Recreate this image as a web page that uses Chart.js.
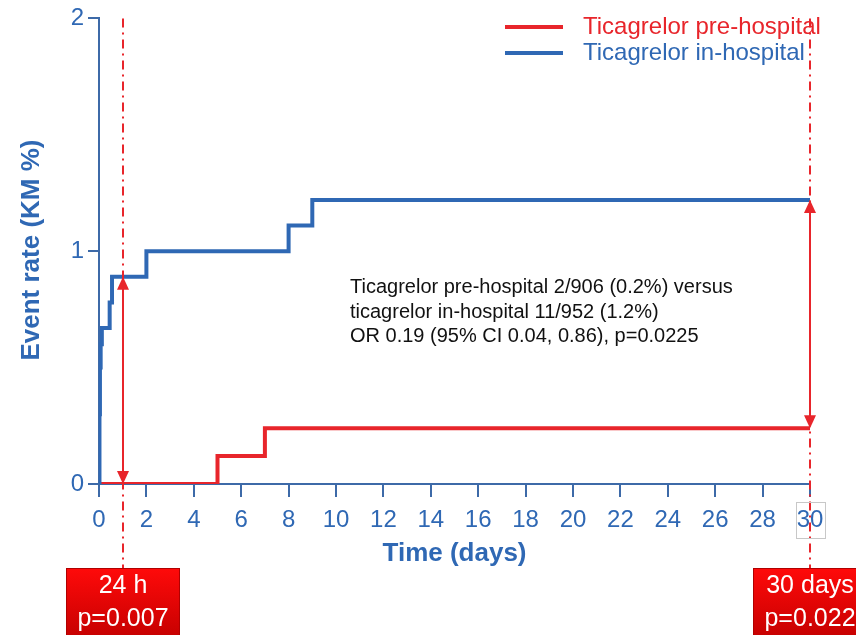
<!DOCTYPE html>
<html>
<head>
<meta charset="utf-8">
<script src="https://cdn.jsdelivr.net/npm/chart.js@4.4.1/dist/chart.umd.min.js"></script>
<style>
  body { margin: 0; background: #fff; }
  #wrap { width: 856px; height: 635px; position: relative; }
</style>
</head>
<body>
<div id="wrap"><canvas id="kmChart"></canvas></div>
<script>
// Kaplan-Meier curves: event times (days) and cumulative event rate (%)
const preDays = [0, 5, 7, 30];
const preRate = [0, 0.12, 0.24, 0.24];
const inDays = [0, 0.02, 0.04, 0.07, 0.12, 0.45, 0.55, 2, 8, 9, 30];
const inRate = [0, 0.3, 0.5, 0.6, 0.67, 0.78, 0.89, 1.0, 1.11, 1.22, 1.22];

const seriesNames = ['Ticagrelor pre-hospital', 'Ticagrelor in-hospital'];

// tick labels
const xTicks = [0, 2, 4, 6, 8, 10, 12, 14, 16, 18, 20, 22, 24, 26, 28, 30];
const yTicks = [0, 1, 2];

// landmark comparisons (day, label, p value, arrow from / to)
const landmarkDays = [1, 30];
const landmarkNames = ['24 h', '30 days'];
const landmarkP = ['p=0.007', 'p=0.022'];
const landmarkLow = [0, 0.24];
const landmarkHigh = [0.89, 1.22];

const noteLines = [
  'Ticagrelor pre-hospital 2/906 (0.2%) versus',
  'ticagrelor in-hospital 11/952 (1.2%)',
  'OR 0.19 (95% CI 0.04, 0.86), p=0.0225'
];

const RED = '#e8252b';
const BLUE = '#2f68b4';
const AXIS = '#3d6aa8';
const FONT = '"Liberation Sans", Arial, sans-serif';

function toPoints(xs, ys) {
  return xs.map((x, i) => ({ x: x, y: ys[i] }));
}

function arrowHead(ctx, x, y, dir) {
  // dir = 1 points down, -1 points up
  ctx.beginPath();
  ctx.moveTo(x, y);
  ctx.lineTo(x - 6, y - dir * 13);
  ctx.lineTo(x + 6, y - dir * 13);
  ctx.closePath();
  ctx.fill();
}

const extras = {
  id: 'extras',
  afterDatasetsDraw(chart) {
    const ctx = chart.ctx;
    const xs = chart.scales.x;
    const ys = chart.scales.y;
    const area = chart.chartArea;
    ctx.save();

    // dash-dot landmark lines + double arrows
    landmarkDays.forEach((d, i) => {
      const px = Math.round(xs.getPixelForValue(d));
      ctx.strokeStyle = RED;
      ctx.lineWidth = 2;
      ctx.setLineDash([9, 5, 2, 5]);
      ctx.beginPath();
      ctx.moveTo(px, area.top);
      ctx.lineTo(px, 568);
      ctx.stroke();
      ctx.setLineDash([]);

      const yLo = ys.getPixelForValue(landmarkLow[i]);
      const yHi = ys.getPixelForValue(landmarkHigh[i]);
      ctx.beginPath();
      ctx.moveTo(px, yLo - 10);
      ctx.lineTo(px, yHi + 10);
      ctx.stroke();
      ctx.fillStyle = RED;
      arrowHead(ctx, px, yLo, 1);
      arrowHead(ctx, px, yHi, -1);

      // red label box
      const bw = 114, bx = px - bw / 2, by = 568;
      const g = ctx.createLinearGradient(0, by, 0, 640);
      g.addColorStop(0, '#ff0a0a');
      g.addColorStop(1, '#c40000');
      ctx.fillStyle = g;
      ctx.fillRect(bx, by, bw, 70);
      ctx.strokeStyle = '#b00000';
      ctx.lineWidth = 1;
      ctx.strokeRect(bx + 0.5, by + 0.5, bw - 1, 70);
      ctx.fillStyle = '#fff';
      ctx.font = '25px ' + FONT;
      ctx.textAlign = 'center';
      ctx.textBaseline = 'middle';
      ctx.fillText(landmarkNames[i], px, 586);
      ctx.fillText(landmarkP[i], px, 619);
    });

    // light box round the last tick label
    const p30 = xs.getPixelForValue(xTicks[xTicks.length - 1]);
    ctx.strokeStyle = '#c8c8c8';
    ctx.lineWidth = 1;
    ctx.strokeRect(Math.round(p30) - 13.5, 502.5, 29, 36);

    // axis titles
    ctx.fillStyle = BLUE;
    ctx.font = 'bold 26px ' + FONT;
    ctx.textAlign = 'center';
    ctx.textBaseline = 'middle';
    ctx.fillText('Time (days)', (area.left + area.right) / 2, 554);
    ctx.save();
    ctx.translate(32, 250);
    ctx.rotate(-Math.PI / 2);
    ctx.fillText('Event rate (KM %)', 0, 0);
    ctx.restore();

    // note text
    ctx.fillStyle = '#111';
    ctx.font = '20px ' + FONT;
    ctx.textAlign = 'left';
    ctx.textBaseline = 'alphabetic';
    noteLines.forEach((t, i) => ctx.fillText(t, 350, 293 + i * 24.5));

    // legend
    const legendColors = [RED, BLUE];
    ctx.font = '24px ' + FONT;
    ctx.textBaseline = 'middle';
    seriesNames.forEach((name, i) => {
      const ly = 27 + i * 26;
      ctx.strokeStyle = legendColors[i];
      ctx.lineWidth = 4;
      ctx.beginPath();
      ctx.moveTo(505, ly);
      ctx.lineTo(563, ly);
      ctx.stroke();
      ctx.fillStyle = legendColors[i];
      ctx.fillText(name, 583, ly);
    });

    ctx.restore();
  }
};

new Chart(document.getElementById('kmChart'), {
  type: 'line',
  data: {
    datasets: [
      {
        label: seriesNames[1],
        data: toPoints(inDays, inRate),
        borderColor: BLUE,
        borderWidth: 4,
        stepped: 'before',
        pointRadius: 0,
        fill: false
      },
      {
        label: seriesNames[0],
        data: toPoints(preDays, preRate),
        borderColor: RED,
        borderWidth: 4,
        stepped: 'before',
        pointRadius: 0,
        fill: false
      }
    ]
  },
  options: {
    responsive: true,
    maintainAspectRatio: false,
    animation: false,
    layout: { padding: { top: 17, right: 46, left: 0, bottom: 0 } },
    plugins: { legend: { display: false }, tooltip: { enabled: false } },
    scales: {
      x: {
        type: 'linear',
        min: 0,
        max: 30,
        afterBuildTicks: s => { s.ticks = xTicks.map(v => ({ value: v })); },
        afterFit: s => { s.height = 151; },
        grid: { drawOnChartArea: false, drawTicks: true, tickLength: 13, color: AXIS, lineWidth: 2 },
        border: { color: AXIS, width: 2 },
        ticks: { color: BLUE, font: { size: 24, family: FONT }, padding: 9, maxRotation: 0, autoSkip: false }
      },
      y: {
        min: 0,
        max: 2,
        afterBuildTicks: s => { s.ticks = yTicks.map(v => ({ value: v })); },
        afterFit: s => { s.width = 99; },
        grid: { drawOnChartArea: false, drawTicks: true, tickLength: 11, color: AXIS, lineWidth: 2 },
        border: { color: AXIS, width: 2 },
        ticks: { color: BLUE, font: { size: 24, family: FONT }, padding: 4 }
      }
    }
  },
  plugins: [extras]
});
</script>
</body>
</html>
